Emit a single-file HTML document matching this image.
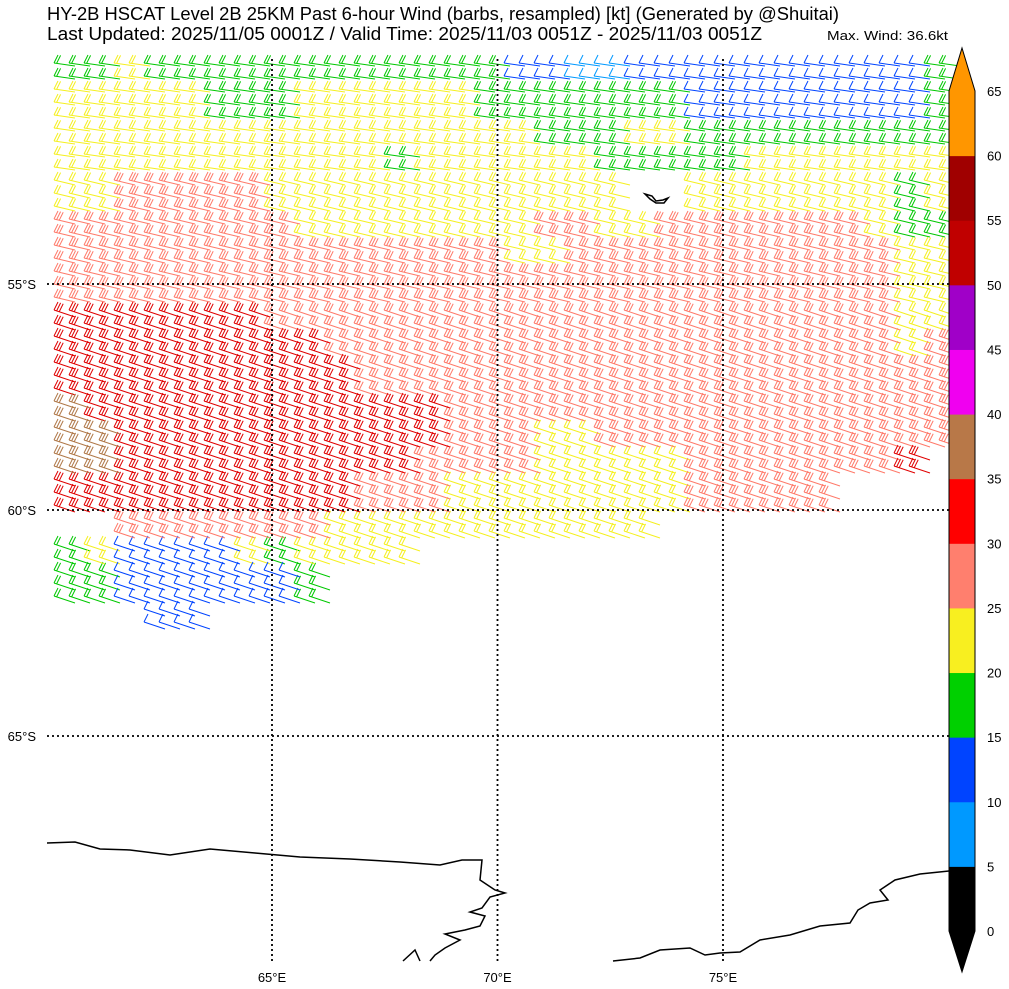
<!DOCTYPE html>
<html><head><meta charset="utf-8">
<style>
html,body{margin:0;padding:0;background:#fff;}
body{width:1009px;height:989px;overflow:hidden;font-family:"Liberation Sans",sans-serif;}
svg{position:absolute;left:0;top:0;}
</style></head>
<body>
<svg id="chart" width="1009" height="989" viewBox="0 0 1009 989">
<text x="47" y="20" font-size="18" textLength="792" lengthAdjust="spacingAndGlyphs">HY-2B HSCAT Level 2B 25KM Past 6-hour Wind (barbs, resampled) [kt] (Generated by @Shuitai)</text>
<text x="47" y="40" font-size="18" textLength="715" lengthAdjust="spacingAndGlyphs">Last Updated: 2025/11/05 0001Z / Valid Time: 2025/11/03 0051Z - 2025/11/03 0051Z</text>
<text x="827" y="40" font-size="13" textLength="121" lengthAdjust="spacingAndGlyphs">Max. Wind: 36.6kt</text>
<g id="barbs"></g>
<g id="coast" fill="none" stroke="#000" stroke-width="1.5">
<polyline points="47,843 75,842 100,849 130,850 170,855 210,849 255,853 300,857 350,859 400,862 440,865 462,860 482,860 480,880 495,890 505,893 490,897 482,908 470,912 485,916 480,926 465,930 445,934 460,940 445,948 435,955 430,961"/>
<polyline points="403,961 415,950 420,961"/>
<polyline points="613,961 640,958 660,950 690,948 705,955 720,953 740,952 760,940 790,935 820,926 850,923 858,910 870,903 888,900 880,890 895,880 920,874 949,871"/>
<path d="M645,194 L652,196 L656,201 L663,200 L668,198 L664,203 L656,203 L650,199 Z"/>
</g>
<g id="grid" stroke="#000" stroke-width="1.8" stroke-dasharray="2,3"></g>
<g id="ticks" font-size="13"></g>
<g id="cbar" font-size="13"></g>
</svg>
<script>
const NS="http://www.w3.org/2000/svg";
// speed category grid (rows from top, 30px cells)
const speedRows=[
"GGYGGGGGGGGGGGGBBLLBBBBBBBBBBG",
"YYYYYGGGYYYYYYGGGGGGGBBBBBBBBG",
"YYYYYYYYYYYYYYYYGGGYYGGGGGGGGG",
"YYYYYYYYYYYGYYYYYYGGGGGYYYYYYY",
"YYSSSSSYYYYYYYYYYYY..YYYYYYYGY",
"SSSSSSSSYYYYYYYYSSYYSSSSSSSYGG",
"SSSSSSSSSSSSSSSYYSSSSSSSSSSSYY",
"SSSSSSSSSSSSSSSSSSSSSSSSSSSSYY",
"RRRRRRRSSSSSSSSSSSSSSSSSSSSSYY",
"RRRRRRRRRSSSSSSSSSSSSSSSSSSSYS",
"RRRRRRRRRRSSSSSSSSSSSSSSSSSSSS",
"NRRRRRRRRRRRRSSSSSSSSSSSSSSSSS",
"NNRRRRRRRRRRRSSSYYSSSSSSSSSSSS",
"NNRRRRRRRRRRSSSSYYYYYSSSSSSSR.",
"RRRRRRRRRRSSSYYYYYYYYSSSSS....",
"..SSSSSSSYYYYYYYYYYY..........",
"GYBBBBYGYYYY..................",
"GGBBBBBBG.....................",
"...BB........................."
];
const catColors={G:"#00c800",Y:"#f5f020",S:"#ff7a6a",R:"#e00000",B:"#0044ff",L:"#0099ff",N:"#b07848"};
const catFeathers={G:2,Y:2,S:3,R:3,B:1,L:1,N:3};
const colorbarLevels=[0,5,10,15,20,25,30,35,40,45,50,55,60,65];
const colorbarColors=["#000000","#0099ff","#0044ff","#00d000","#f8ef20","#ff7f6e","#ff0000","#b87848","#f000f0","#a000c8","#c00000","#a00000","#ff9600"];
const lonTicks=[65,70,75];
const latTicks=[55,60,65];

const X0=47,Y0=59,CELL=30;
const lonX=lon=>272+(lon-65)*45.1;
const latY=lat=>284+(lat-55)*45.2;

const paths={};
for(let y=Y0+4;y<Y0+19*CELL;y+=13){
  const row=Math.floor((y-Y0)/CELL);
  const off=((y-Y0)/13)%2?7:0;
  for(let x=X0+off;x<940;x+=15){
    const col=Math.floor((x-X0)/CELL);
    const c=(speedRows[row]||"")[col];
    if(!c||c==='.')continue;
    const dy=row<4?3:(row<8?5:7);
    let d=`M${x},${y}L${x+21},${y+dy}`;
    for(let k=0;k<catFeathers[c];k++){
      const px=x+k*2.6,py=y+k*dy/8;
      d+=`M${px},${py}l4,-8`;
    }
    paths[c]=(paths[c]||"")+d;
  }
}
const bg=document.getElementById('barbs');
for(const c in paths){
  const p=document.createElementNS(NS,'path');
  p.setAttribute('d',paths[c]);p.setAttribute('stroke',catColors[c]);p.setAttribute('fill','none');p.setAttribute('stroke-width','1');
  
  
  bg.appendChild(p);
}
const gg=document.getElementById('grid'),tg=document.getElementById('ticks');
lonTicks.forEach(l=>{
  const x=lonX(l);
  const ln=document.createElementNS(NS,'line');
  ln.setAttribute('x1',x);ln.setAttribute('x2',x);ln.setAttribute('y1',59);ln.setAttribute('y2',961);
  
  
  gg.appendChild(ln);
  const t=document.createElementNS(NS,'text');
  t.setAttribute('x',x);t.setAttribute('y',982);t.setAttribute('text-anchor','middle');t.textContent=l+'°E';
  
  
  tg.appendChild(t);
});
latTicks.forEach(l=>{
  const y=latY(l);
  const ln=document.createElementNS(NS,'line');
  ln.setAttribute('x1',47);ln.setAttribute('x2',949);ln.setAttribute('y1',y);ln.setAttribute('y2',y);
  
  
  gg.appendChild(ln);
  const t=document.createElementNS(NS,'text');
  t.setAttribute('x',36);t.setAttribute('y',y+5);t.setAttribute('text-anchor','end');t.textContent=l+'°S';
  
  
  tg.appendChild(t);
});
const cg=document.getElementById('cbar');
const cbX=949,cbW=26,cbTop=91,cbBot=931;
const vY=v=>cbBot-(v-0)/65*(cbBot-cbTop);
colorbarColors.forEach((col,i)=>{
  const r=document.createElementNS(NS,'rect');
  const y1=vY(colorbarLevels[i+1]),y2=vY(colorbarLevels[i]);
  r.setAttribute('x',cbX);r.setAttribute('y',y1);r.setAttribute('width',cbW);r.setAttribute('height',y2-y1+0.5);r.setAttribute('fill',col);
  
  
  cg.appendChild(r);
});
const tri1=document.createElementNS(NS,'polygon');
tri1.setAttribute('points',`${cbX},${cbTop} ${cbX+cbW/2},48 ${cbX+cbW},${cbTop}`);tri1.setAttribute('fill','#ff9600');


cg.appendChild(tri1);
const tri2=document.createElementNS(NS,'polygon');
tri2.setAttribute('points',`${cbX},${cbBot} ${cbX+cbW/2},972 ${cbX+cbW},${cbBot}`);tri2.setAttribute('fill','#000');


cg.appendChild(tri2);
const outline=document.createElementNS(NS,'polygon');
outline.setAttribute('points',`${cbX},${cbTop} ${cbX+cbW/2},48 ${cbX+cbW},${cbTop} ${cbX+cbW},${cbBot} ${cbX+cbW/2},972 ${cbX},${cbBot}`);
outline.setAttribute('fill','none');outline.setAttribute('stroke','#000');outline.setAttribute('stroke-width','1');


cg.appendChild(outline);
colorbarLevels.forEach(v=>{
  const t=document.createElementNS(NS,'text');
  t.setAttribute('x',987);t.setAttribute('y',vY(v)+5);t.textContent=v;
  
  
  cg.appendChild(t);
});
</script>
</body></html>
